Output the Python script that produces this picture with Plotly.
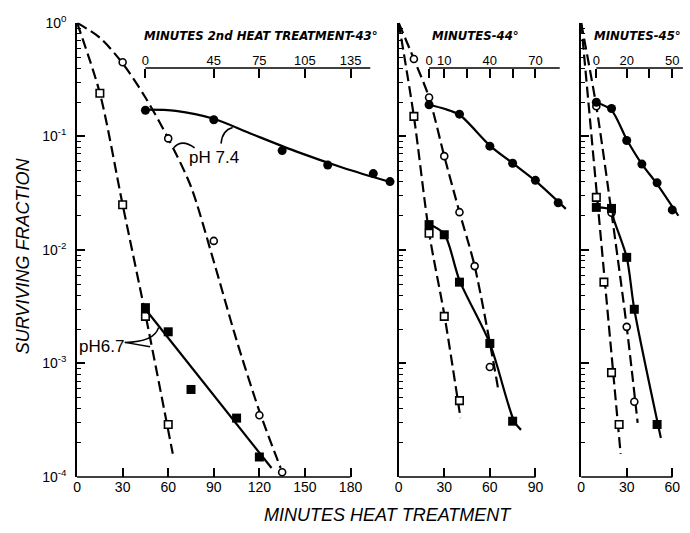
import plotly.graph_objects as go

# ---------------- data ----------------
# 43 degC panel : first heat (open) vs bottom axis, second heat (filled) vs top axis
t43_open_sq_x = [15, 30, 45, 60]
t43_open_sq_y = [0.24, 0.025, 0.0026, 0.00029]
t43_open_ci_x = [30, 60, 90, 120, 135]
t43_open_ci_y = [0.45, 0.096, 0.012, 0.00035, 0.00011]
t43_fill_ci_x = [0, 45, 90, 120, 150, 161]
t43_fill_ci_y = [0.17, 0.14, 0.075, 0.056, 0.047, 0.040]
t43_fill_sq_x = [0, 15, 30, 60, 75]
t43_fill_sq_y = [0.0031, 0.0019, 0.00059, 0.00033, 0.00015]

fit43_open_sq_x = [0, 15, 30, 45, 63]
fit43_open_sq_y = [1, 0.24, 0.025, 0.0027, 0.00016]
fit43_open_ci_x = [0, 15, 30, 45, 60, 75, 90, 105, 120, 134]
fit43_open_ci_y = [1, 0.74, 0.44, 0.22, 0.096, 0.036, 0.0079, 0.0016, 0.00038, 0.00012]
fit43_fill_ci_x = [0, 20, 45, 70, 100, 130, 163]
fit43_fill_ci_y = [0.172, 0.168, 0.143, 0.105, 0.073, 0.053, 0.039]
fit43_fill_sq_x = [0, 83]
fit43_fill_sq_y = [0.0030, 0.00012]

# 44 degC panel
t44_open_sq_x = [10, 20, 30, 40]
t44_open_sq_y = [0.15, 0.014, 0.0026, 0.00047]
t44_open_ci_x = [10, 20, 30, 40, 50, 60]
t44_open_ci_y = [0.48, 0.22, 0.067, 0.0215, 0.0072, 0.00093]
t44_fill_ci_x = [0, 20, 40, 55, 70, 85]
t44_fill_ci_y = [0.19, 0.157, 0.082, 0.058, 0.041, 0.026]
t44_fill_sq_x = [0, 10, 20, 40, 55]
t44_fill_sq_y = [0.0167, 0.0136, 0.0052, 0.0015, 0.00031]

fit44_open_sq_x = [0, 10, 20, 30, 40.7]
fit44_open_sq_y = [1, 0.15, 0.0142, 0.0027, 0.00033]
fit44_open_ci_x = [0, 10, 20, 30, 40, 50, 63, 65.6]
fit44_open_ci_y = [1, 0.48, 0.22, 0.067, 0.0215, 0.0072, 0.00092, 0.00058]
fit44_fill_ci_x = [0, 10, 20, 40, 55, 70, 90]
fit44_fill_ci_y = [0.19, 0.175, 0.155, 0.083, 0.058, 0.0405, 0.023]
fit44_fill_sq_x = [0, 10, 20, 40, 56, 60.5]
fit44_fill_sq_y = [0.0168, 0.0138, 0.0054, 0.0015, 0.00031, 0.00026]

# 45 degC panel
t45_open_sq_x = [10, 15, 20, 25]
t45_open_sq_y = [0.029, 0.0052, 0.00083, 0.00029]
t45_open_ci_x = [10, 20, 30, 35]
t45_open_ci_y = [0.184, 0.0213, 0.0021, 0.00046]
t45_fill_ci_x = [0, 10, 20, 30, 40, 50]
t45_fill_ci_y = [0.2, 0.176, 0.092, 0.057, 0.039, 0.0225]
t45_fill_sq_x = [0, 10, 20, 25, 40]
t45_fill_sq_y = [0.0237, 0.0232, 0.0086, 0.003, 0.00029]

fit45_open_sq_x = [0, 26]
fit45_open_sq_y = [1, 0.00016]
fit45_open_ci_x = [0, 10, 20, 30, 37.2]
fit45_open_ci_y = [1, 0.184, 0.0213, 0.0021, 0.0003]
fit45_fill_ci_x = [0, 10, 20, 30, 40, 54]
fit45_fill_ci_y = [0.2, 0.17, 0.094, 0.057, 0.038, 0.02]
fit45_fill_sq_x = [0, 10, 11.5, 20, 25, 42.5]
fit45_fill_sq_y = [0.0237, 0.0225, 0.0186, 0.0086, 0.003, 0.00022]

bottom_ticks = [[0, 30, 60, 90, 120, 150, 180], [0, 30, 60, 90], [0, 30, 60]]
top_ticks = [[0, 45, 75, 105, 135], [0, 10, 40, 70], [0, 20, 50]]
top_minor_ticks = [[], [25, 55], [35]]
y_tickvals = [1, 0.1, 0.01, 0.001, 0.0001]
y_ticktext = ["10<sup>0</sup>", "10<sup>-1</sup>", "10<sup>-2</sup>", "10<sup>-3</sup>", "10<sup>-4</sup>"]
top_titles = ["MINUTES 2nd HEAT TREATMENT-43°", "MINUTES-44°", "MINUTES-45°"]

# ---------------- layout geometry (pixels) ----------------
W, H = 690, 533
SCALE = 1.528                      # px per minute
X0 = [73.5, 397.0, 580.5]          # px of bottom-axis 0
XR = [210, 112, 70]                # bottom-axis range max
BOT_END = [180, 90, 60]            # bottom axis line end
OFFS = [45, 20, 10]                # second-treatment zero on bottom axis
TOP_END = [148, 86, 57]            # top axis line end
Y_TOP, Y_BOT, TOP_AX = 13.3, 483.3, 60.0


def fx(p):
    return p / W


def fy(p):
    return 1 - p / H


FONT = "Liberation Sans, Arial, Helvetica, sans-serif"
NARROW = "Liberation Sans Narrow, DejaVu Sans Condensed, Liberation Sans, sans-serif"
BLK = "black"

fig = go.Figure()

panels = [
    dict(osx=t43_open_sq_x, osy=t43_open_sq_y, ocx=t43_open_ci_x, ocy=t43_open_ci_y,
         fcx=t43_fill_ci_x, fcy=t43_fill_ci_y, fsx=t43_fill_sq_x, fsy=t43_fill_sq_y,
         f_os=(fit43_open_sq_x, fit43_open_sq_y), f_oc=(fit43_open_ci_x, fit43_open_ci_y),
         f_fc=(fit43_fill_ci_x, fit43_fill_ci_y), f_fs=(fit43_fill_sq_x, fit43_fill_sq_y)),
    dict(osx=t44_open_sq_x, osy=t44_open_sq_y, ocx=t44_open_ci_x, ocy=t44_open_ci_y,
         fcx=t44_fill_ci_x, fcy=t44_fill_ci_y, fsx=t44_fill_sq_x, fsy=t44_fill_sq_y,
         f_os=(fit44_open_sq_x, fit44_open_sq_y), f_oc=(fit44_open_ci_x, fit44_open_ci_y),
         f_fc=(fit44_fill_ci_x, fit44_fill_ci_y), f_fs=(fit44_fill_sq_x, fit44_fill_sq_y)),
    dict(osx=t45_open_sq_x, osy=t45_open_sq_y, ocx=t45_open_ci_x, ocy=t45_open_ci_y,
         fcx=t45_fill_ci_x, fcy=t45_fill_ci_y, fsx=t45_fill_sq_x, fsy=t45_fill_sq_y,
         f_os=(fit45_open_sq_x, fit45_open_sq_y), f_oc=(fit45_open_ci_x, fit45_open_ci_y),
         f_fc=(fit45_fill_ci_x, fit45_fill_ci_y), f_fs=(fit45_fill_sq_x, fit45_fill_sq_y)),
]

DASH = "11px,5px"
LW = 2.2

for i, p in enumerate(panels):
    xb = "x" if i == 0 else f"x{i + 1}"
    xt = f"x{i + 4}"
    yy = "y" if i == 0 else f"y{i + 1}"
    # fitted curves
    for (cx, cy), xa, dash in [(p["f_os"], xb, DASH), (p["f_oc"], xb, DASH),
                               (p["f_fc"], xt, "solid"), (p["f_fs"], xt, "solid")]:
        fig.add_trace(go.Scatter(x=cx, y=cy, xaxis=xa, yaxis=yy, mode="lines",
                                 line=dict(color=BLK, width=LW, dash=dash, shape="spline", smoothing=0.8),
                                 hoverinfo="skip", showlegend=False))
    # markers
    fig.add_trace(go.Scatter(x=p["osx"], y=p["osy"], xaxis=xb, yaxis=yy, mode="markers", cliponaxis=False,
                             marker=dict(symbol="square", size=7.5, color="white", line=dict(color=BLK, width=1.6)),
                             showlegend=False))
    fig.add_trace(go.Scatter(x=p["ocx"], y=p["ocy"], xaxis=xb, yaxis=yy, mode="markers", cliponaxis=False,
                             marker=dict(symbol="circle", size=7, color="white", line=dict(color=BLK, width=1.6)),
                             showlegend=False))
    fig.add_trace(go.Scatter(x=p["fcx"], y=p["fcy"], xaxis=xt, yaxis=yy, mode="markers", cliponaxis=False,
                             marker=dict(symbol="circle", size=9, color=BLK), showlegend=False))
    fig.add_trace(go.Scatter(x=p["fsx"], y=p["fsy"], xaxis=xt, yaxis=yy, mode="markers", cliponaxis=False,
                             marker=dict(symbol="square", size=9, color=BLK), showlegend=False))

minor_vals = [m * 10 ** k for k in range(-4, 0) for m in range(2, 10)]

layout = dict(
    width=W, height=H, margin=dict(l=0, r=0, t=0, b=0),
    paper_bgcolor="white", plot_bgcolor="white", showlegend=False,
    font=dict(family=FONT, color=BLK, size=14),
)

ydom = [fy(Y_BOT), fy(Y_TOP)]
for i in range(3):
    dom = [fx(X0[i]), fx(X0[i] + XR[i] * SCALE)]
    bkey = "xaxis" if i == 0 else f"xaxis{i + 1}"
    tkey = f"xaxis{i + 4}"
    ykey = "yaxis" if i == 0 else f"yaxis{i + 1}"
    yid = "y" if i == 0 else f"y{i + 1}"
    xid = "x" if i == 0 else f"x{i + 1}"
    layout[bkey] = dict(domain=dom, anchor=yid, range=[0, XR[i]], showline=False, zeroline=False,
                        showgrid=False, tickmode="array", tickvals=bottom_ticks[i], ticks="inside",
                        ticklen=9, tickwidth=1.5, tickcolor=BLK, tickfont=dict(size=14, family=FONT))
    top = dict(overlaying=xid, anchor="free", position=fy(TOP_AX), side="top",
               range=[-OFFS[i], XR[i] - OFFS[i]], showline=False, zeroline=False, showgrid=False,
               tickmode="array", tickvals=top_ticks[i], ticks="inside",
               ticklen=9, tickwidth=1.5, tickcolor=BLK, tickfont=dict(size=13, family=FONT))
    if top_minor_ticks[i]:
        top["minor"] = dict(tickvals=top_minor_ticks[i], ticks="inside", ticklen=9, tickwidth=1.5,
                            tickcolor=BLK, showgrid=False)
    layout[tkey] = top
    layout[ykey] = dict(domain=ydom, anchor=xid, type="log", range=[-4, 0], showline=True, linecolor=BLK,
                        linewidth=1.5, zeroline=False, showgrid=False, tickmode="array",
                        tickvals=y_tickvals, ticktext=y_ticktext, ticks="inside", ticklen=8, tickwidth=1.5,
                        tickcolor=BLK, showticklabels=(i == 0), ticklabelstandoff=6,
                        tickfont=dict(size=14, family=FONT),
                        minor=dict(tickvals=minor_vals, ticks="inside", ticklen=4.5, tickwidth=1.2,
                                   tickcolor=BLK, showgrid=False))

shapes = []
for i in range(3):
    xid = "x" if i == 0 else f"x{i + 1}"
    shapes.append(dict(type="line", xref=xid, yref="paper", x0=0, x1=BOT_END[i], y0=ydom[0], y1=ydom[0],
                       line=dict(color=BLK, width=1.6)))
    shapes.append(dict(type="line", xref=f"x{i + 4}", yref="paper", x0=0, x1=TOP_END[i],
                       y0=fy(TOP_AX), y1=fy(TOP_AX), line=dict(color=BLK, width=1.6)))


def path(pts, cmd):
    s = ""
    for c, (a, b) in zip(cmd, pts):
        s += f"{c} {fx(a):.5f},{fy(b):.5f} "
    return s.strip()


# leader lines for the pH labels
leaders = [
    path([(191.7, 142.7), (179.0, 133.0), (170.7, 142.5)], ["M", "Q", ""]),
    path([(218.3, 138.3), (219.5, 124.5), (230.0, 121.7)], ["M", "Q", ""]),
    path([(121.5, 344.0), (151.0, 343.5), (155.5, 328.5)], ["M", "Q", ""]),
    path([(121.5, 344.0), (147.0, 348.5)], ["M", "L"]),
]
for d in leaders:
    shapes.append(dict(type="path", xref="paper", yref="paper", path=d, line=dict(color=BLK, width=1.5)))
layout["shapes"] = shapes


def note(text, cx, cy, size, **kw):
    f = dict(size=size, family=kw.pop("family", FONT))
    f.update(kw.pop("fontextra", {}))
    return dict(text=text, x=fx(cx), y=fy(cy), xref="paper", yref="paper", showarrow=False,
                xanchor="center", yanchor="middle", font=f, **kw)


ann = [
    note("SURVIVING FRACTION", 20, 254, 18, textangle=-90, fontextra=dict(style="italic")),
    note("MINUTES HEAT TREATMENT", 386.5, 523, 18, fontextra=dict(style="italic")),
    note("pH 7.4", 211.5, 153, 17),
    note("pH6.7", 98.5, 348, 17),
]
for t, cx in zip(top_titles, [258.5, 474.5, 637.5]):
    ann.append(note(t, cx, 26, 13, family=NARROW, fontextra=dict(style="italic", weight="bold")))
layout["annotations"] = ann

fig.update_layout(**layout)
fig.write_html("out.html")
